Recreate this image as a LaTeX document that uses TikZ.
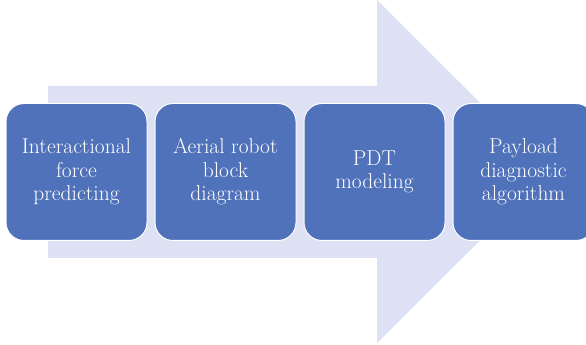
\documentclass[tikz,border=0pt]{standalone}
\usepackage{tikz}
\usetikzlibrary{positioning}
\definecolor{stepblue}{RGB}{80,114,186}
\definecolor{flowlav}{RGB}{222,224,243}

\begin{document}
\begin{tikzpicture}[
    x=1pt, y=1pt, node distance=149pt, on grid,
    stage/.style={draw=white, line width=1pt, fill=stepblue, rounded corners=18pt,
      minimum width=141pt, minimum height=137pt, text=white, align=center,
      font=\fontsize{21.5}{23.5}\selectfont}]
  \useasboundingbox (0,0) rectangle (586,345);
  % big background arrow
  \fill[flowlav] (48,87) -- (377,87) -- (377,2) -- (549,173.5)
    -- (377,345) -- (377,259) -- (48,259) -- cycle;
  \node[stage] (force) at (76.5,173) {Interactional\\force\\predicting};
  \node[stage, right=of force] (robot) {Aerial robot\\block\\diagram};
  \node[stage, right=of robot] (pdt) {PDT\\modeling};
  \node[stage, right=of pdt] (payload) {Payload\\diagnostic\\algorithm};
\end{tikzpicture}
\end{document}
